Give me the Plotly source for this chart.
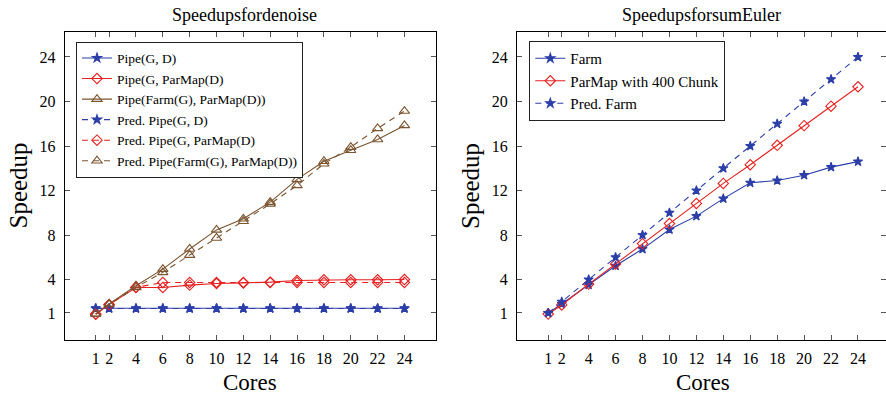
import plotly.graph_objects as go

# ---------------- data ----------------
cores = [1, 2, 4, 6, 8, 10, 12, 14, 16, 18, 20, 22, 24]
x_ticks = [1, 2, 4, 6, 8, 10, 12, 14, 16, 18, 20, 22, 24]
y_ticks = [1, 4, 8, 12, 16, 20, 24]

# Speedups for denoise
pipe_g_d = [1.42, 1.42, 1.42, 1.42, 1.42, 1.42, 1.42, 1.42, 1.42, 1.42, 1.42, 1.42, 1.42]
pipe_g_parmap_d = [0.88, 1.75, 3.29, 3.29, 3.5, 3.65, 3.7, 3.77, 3.92, 3.98, 3.98, 3.98, 4.0]
pipe_farm_g_parmap_d = [0.92, 1.8, 3.45, 4.94, 6.75, 8.46, 9.46, 10.96, 13.0, 14.63, 15.62, 16.59, 17.85]
pred_pipe_g_d = [1.4, 1.4, 1.4, 1.4, 1.4, 1.4, 1.4, 1.4, 1.4, 1.4, 1.4, 1.4, 1.4]
pred_pipe_g_parmap_d = [0.9, 1.75, 3.3, 3.74, 3.74, 3.74, 3.74, 3.74, 3.74, 3.74, 3.74, 3.74, 3.74]
pred_pipe_farm_g_parmap_d = [0.9, 1.8, 3.3, 4.65, 6.2, 7.74, 9.24, 10.8, 12.46, 14.4, 15.9, 17.58, 19.14]

# Speedups for sumEuler
farm = [1.0, 1.8, 3.53, 5.24, 6.74, 8.5, 9.7, 11.27, 12.7, 12.9, 13.38, 14.1, 14.6]
parmap_400 = [0.9, 1.72, 3.59, 5.4, 7.23, 9.03, 10.84, 12.64, 14.32, 16.06, 17.83, 19.58, 21.32]
pred_farm = [1, 2, 4, 6, 8, 10, 12, 14, 16, 18, 20, 22, 24]

# ---------------- styles ----------------
BLUE = "#2c3fa8"
RED = "#e82020"
BROWN = "#7b5530"
DASH = "6px,5px"
FONT = "Liberation Serif, Times New Roman, serif"

W, H = 886, 397

fig = go.Figure()


def add(x, y, name, color, symbol, size, dash, xa, ya, legend):
    fig.add_trace(go.Scatter(
        x=x, y=y, name=name, mode="lines+markers",
        line=dict(color=color, width=1.1, dash=dash),
        marker=dict(symbol=symbol, size=size, color=color,
                    line=dict(color=color, width=1.1)),
        xaxis=xa, yaxis=ya, legend=legend,
    ))


# left chart
add(cores, pipe_g_d, "Pipe(G, D)", BLUE, "star", 7, "solid", "x", "y", "legend")
add(cores, pipe_g_parmap_d, "Pipe(G, ParMap(D)", RED, "diamond-open", 8, "solid", "x", "y", "legend")
add(cores, pipe_farm_g_parmap_d, "Pipe(Farm(G), ParMap(D))", BROWN, "triangle-up-open", 9, "solid", "x", "y", "legend")
add(cores, pred_pipe_g_d, "Pred. Pipe(G, D)", BLUE, "star", 7, DASH, "x", "y", "legend")
add(cores, pred_pipe_g_parmap_d, "Pred. Pipe(G, ParMap(D)", RED, "diamond-open", 8, DASH, "x", "y", "legend")
add(cores, pred_pipe_farm_g_parmap_d, "Pred. Pipe(Farm(G), ParMap(D))", BROWN, "triangle-up-open", 9, DASH, "x", "y", "legend")

# right chart
add(cores, farm, "Farm", BLUE, "star", 7, "solid", "x2", "y2", "legend2")
add(cores, parmap_400, "ParMap with 400 Chunk", RED, "diamond-open", 8, "solid", "x2", "y2", "legend2")
add(cores, pred_farm, "Pred. Farm", BLUE, "star", 7, DASH, "x2", "y2", "legend2")


def px_x(p):
    return p / W


def px_y(p):
    return 1 - p / H


axis_common = dict(
    showline=True, linecolor="black", linewidth=1, mirror="ticks",
    ticks="inside", ticklen=5, tickcolor="#555", tickwidth=1,
    showgrid=False, zeroline=False,
    tickfont=dict(family=FONT, size=16, color="black"),
    tickmode="array",
)

y_domain = [px_y(340), px_y(31.7)]
y_range = [-1.43, 26.27]

fig.update_layout(
    width=W, height=H,
    margin=dict(l=0, r=0, t=0, b=0),
    paper_bgcolor="white", plot_bgcolor="white",
    font=dict(family=FONT, color="black"),
    xaxis=dict(domain=[px_x(64.7), px_x(436)], range=[-1.31, 26.35],
               tickvals=x_ticks, ticktext=[str(v) for v in x_ticks],
               ticklabelstandoff=4, anchor="y", **axis_common),
    yaxis=dict(domain=y_domain, range=y_range,
               tickvals=y_ticks, ticktext=[str(v) for v in y_ticks],
               ticklabelstandoff=5, anchor="x", **axis_common),
    xaxis2=dict(domain=[px_x(517), 1.0], range=[-1.32, 26.08],
                tickvals=x_ticks, ticktext=[str(v) for v in x_ticks],
                ticklabelstandoff=4, anchor="y2", **axis_common),
    yaxis2=dict(domain=y_domain, range=y_range,
                tickvals=y_ticks, ticktext=[str(v) for v in y_ticks],
                ticklabelstandoff=5, anchor="x2", **axis_common),
    legend=dict(x=px_x(76), y=px_y(41.7), xanchor="left", yanchor="top",
                bgcolor="white", bordercolor="#222", borderwidth=1,
                font=dict(family=FONT, size=13.5, color="black"),
                tracegroupgap=0),
    legend2=dict(x=px_x(529.3), y=px_y(41), xanchor="left", yanchor="top",
                 bgcolor="white", bordercolor="#222", borderwidth=1,
                 font=dict(family=FONT, size=15, color="black"),
                 tracegroupgap=0),
    showlegend=True,
)

annotations = [
    dict(text="Speedupsfordenoise", x=px_x(244), y=px_y(15)),
    dict(text="SpeedupsforsumEuler", x=px_x(701), y=px_y(15)),
]
for a in annotations:
    a.update(xref="paper", yref="paper", showarrow=False,
             font=dict(family=FONT, size=18, color="black"),
             xanchor="center", yanchor="middle")

annotations += [
    dict(text="Speedup", x=px_x(17.5), y=px_y(186), textangle=-90,
         xref="paper", yref="paper", showarrow=False,
         font=dict(family=FONT, size=25, color="black"),
         xanchor="center", yanchor="middle"),
    dict(text="Speedup", x=px_x(470), y=px_y(186), textangle=-90,
         xref="paper", yref="paper", showarrow=False,
         font=dict(family=FONT, size=25, color="black"),
         xanchor="center", yanchor="middle"),
    dict(text="Cores", x=px_x(250), y=px_y(382.5),
         xref="paper", yref="paper", showarrow=False,
         font=dict(family=FONT, size=23, color="black"),
         xanchor="center", yanchor="middle"),
    dict(text="Cores", x=px_x(703), y=px_y(382.5),
         xref="paper", yref="paper", showarrow=False,
         font=dict(family=FONT, size=23, color="black"),
         xanchor="center", yanchor="middle"),
]
fig.update_layout(annotations=annotations)

# remove the browser's default 8px body margin so the figure fills the window
fig.write_html(
    "out.html",
    config={"displayModeBar": False},
    post_script="document.body.style.margin='0';document.body.style.padding='0';"
                "document.body.style.overflow='hidden';",
)
